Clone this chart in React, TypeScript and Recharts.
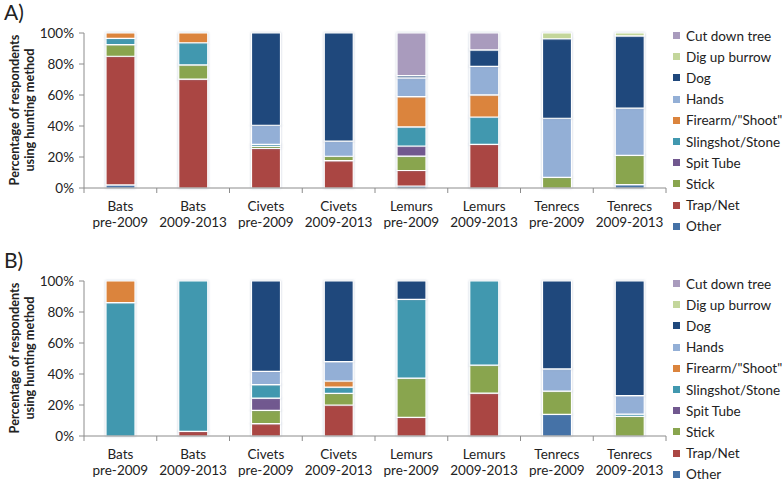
import { BarChart, Bar, XAxis, YAxis } from "recharts";

// category labels (two lines under each bar)
const taxa = ["Bats", "Bats", "Civets", "Civets", "Lemurs", "Lemurs", "Tenrecs", "Tenrecs"];
const periods = ["pre-2009", "2009-2013", "pre-2009", "2009-2013", "pre-2009", "2009-2013", "pre-2009", "2009-2013"];

// hunting methods, bottom of the stack first
const methods = ["Other", "Trap/Net", "Stick", "Spit Tube", "Slingshot/Stone", 'Firearm/"Shoot"', "Hands", "Dog", "Dig up burrow", "Cut down tree"];
const keys = ["other", "trap", "stick", "spit", "sling", "firearm", "hands", "dog", "dig", "cut"];
const colors = ["#4572A7", "#AA4643", "#89A54E", "#71588F", "#4198AF", "#DB843D", "#93AFD6", "#1F487C", "#C3D69B", "#A99BBD"];

const yTicks = [0, 20, 40, 60, 80, 100];

// Panel A (% of respondents)
const otherA = [2, 0, 0, 0, 1.3, 0, 0, 2.2];
const trapA = [83, 70.3, 25.5, 17.7, 10, 28.1, 0, 0];
const stickA = [7.5, 9.1, 1.3, 2.8, 9.3, 0, 6.9, 18.8];
const spitA = [0, 0, 0, 0, 6.5, 0, 0, 0];
const slingA = [4, 14.3, 1.3, 0, 12.3, 17.7, 0, 0];
const firearmA = [3.5, 6.3, 0, 0, 19.5, 14.3, 0, 0];
const handsA = [0, 0, 12.4, 9.7, 12.1, 18.4, 38.1, 30.5];
const dogA = [0, 0, 59.5, 69.8, 1.5, 10.6, 51.3, 46.6];
const digA = [0, 0, 0, 0, 0, 0, 3.7, 1.9];
const cutA = [0, 0, 0, 0, 27.5, 10.9, 0, 0];

// Panel B
const otherB = [0, 0, 0, 0, 0, 0, 14, 0];
const trapB = [0, 3, 8, 20, 12, 27.7, 0, 0];
const stickB = [0, 0, 8.5, 7.5, 25.4, 18, 15, 12.6];
const spitB = [0, 0, 8, 0, 0, 0, 0, 0];
const slingB = [86, 97, 8.7, 4, 50.7, 54.3, 0, 1.5];
const firearmB = [14, 0, 0, 4, 0, 0, 0, 0];
const handsB = [0, 0, 8.5, 12.5, 0, 0, 14.3, 11.9];
const dogB = [0, 0, 58.3, 52, 11.9, 0, 56.7, 74];
const digB = [0, 0, 0, 0, 0, 0, 0, 0];
const cutB = [0, 0, 0, 0, 0, 0, 0, 0];

const seriesA = [otherA, trapA, stickA, spitA, slingA, firearmA, handsA, dogA, digA, cutA];
const seriesB = [otherB, trapB, stickB, spitB, slingB, firearmB, handsB, dogB, digB, cutB];

const buildRows = (series: number[][]) =>
  taxa.map((t, i) => {
    const row: any = { name: t + " " + periods[i], idx: i };
    keys.forEach((k, j) => (row[k] = series[j][i]));
    return row;
  });

const FONT = "Lato, 'DejaVu Sans', sans-serif";
const W = 782;
const H = 248;
const PLOT_LEFT = 84;
const PLOT_RIGHT = 666;
const BAND = (PLOT_RIGHT - PLOT_LEFT) / taxa.length;

const XTick = (props: any) => {
  const { x, y, payload, index } = props;
  const i = payload.value;
  return (
    <g>
      <line x1={x - BAND / 2} x2={x - BAND / 2} y1={y} y2={y + 5} stroke="#8c8c8c" />
      {index === taxa.length - 1 && (
        <line x1={x + BAND / 2} x2={x + BAND / 2} y1={y} y2={y + 5} stroke="#8c8c8c" />
      )}
      <text x={x} y={y + 23} textAnchor="middle" fontSize={13.5} fill="#222" fontFamily={FONT}>
        {taxa[i]}
      </text>
      <text x={x} y={y + 39} textAnchor="middle" fontSize={13.5} fill="#222" fontFamily={FONT}>
        {periods[i]}
      </text>
    </g>
  );
};

const Panel = ({ label, series }: { label: string; series: number[][] }) => {
  const data = buildRows(series);
  return (
    <div style={{ position: "relative", width: W, height: H }}>
      <BarChart width={W} height={H} data={data} margin={{ top: 33, right: W - PLOT_RIGHT, bottom: 0, left: 0 }} barSize={29}>
        <XAxis
          dataKey="idx"
          height={60}
          tick={<XTick />}
          tickLine={false}
          tickSize={0}
          tickMargin={0}
          stroke="#8c8c8c"
          interval={0}
        />
        <YAxis
          width={PLOT_LEFT}
          domain={[0, 100]}
          ticks={yTicks}
          tickFormatter={(v) => `${v}%`}
          tickSize={5}
          tickMargin={5}
          stroke="#8c8c8c"
          tick={{ fontSize: 13.5, fill: "#222", fontFamily: FONT }}
          interval={0}
        />
        {keys.map((k, j) => (
          <Bar key={k} dataKey={k} stackId="s" fill={colors[j]} stroke="#ffffff" strokeWidth={1.2} isAnimationActive={false} />
        ))}
      </BarChart>
      <div style={{ position: "absolute", left: 4, top: -1, fontSize: 21, fontFamily: FONT, color: "#222" }}>{label}</div>
      <div
        style={{
          position: "absolute",
          left: 23 - 80,
          top: 110 - 16,
          width: 160,
          height: 32,
          transform: "rotate(-90deg)",
          textAlign: "center",
          fontFamily: FONT,
          fontWeight: 700,
          fontSize: 12.7,
          lineHeight: "15px",
          color: "#222",
          whiteSpace: "nowrap",
        }}
      >
        Percentage of respondents
        <br />
        using hunting method
      </div>
      <div style={{ position: "absolute", left: 673, top: 25, fontFamily: FONT, fontSize: 13.5, color: "#222" }}>
        {methods
          .map((m, j) => ({ m, c: colors[j] }))
          .reverse()
          .map(({ m, c }) => (
            <div key={m} style={{ height: 21.2, display: "flex", alignItems: "center", whiteSpace: "nowrap" }}>
              <span style={{ display: "inline-block", width: 7, height: 7, background: c, marginRight: 6 }} />
              {m}
            </div>
          ))}
      </div>
    </div>
  );
};

export default function App() {
  return (
    <div style={{ position: "absolute", left: 0, top: 0, width: W, height: 484, background: "#fff" }}>
      <style>{`.recharts-bar-rectangle path { filter: drop-shadow(0 0 1px rgba(150,165,190,0.55)); }`}</style>
      <Panel label="A)" series={seriesA} />
      <Panel label="B)" series={seriesB} />
    </div>
  );
}
